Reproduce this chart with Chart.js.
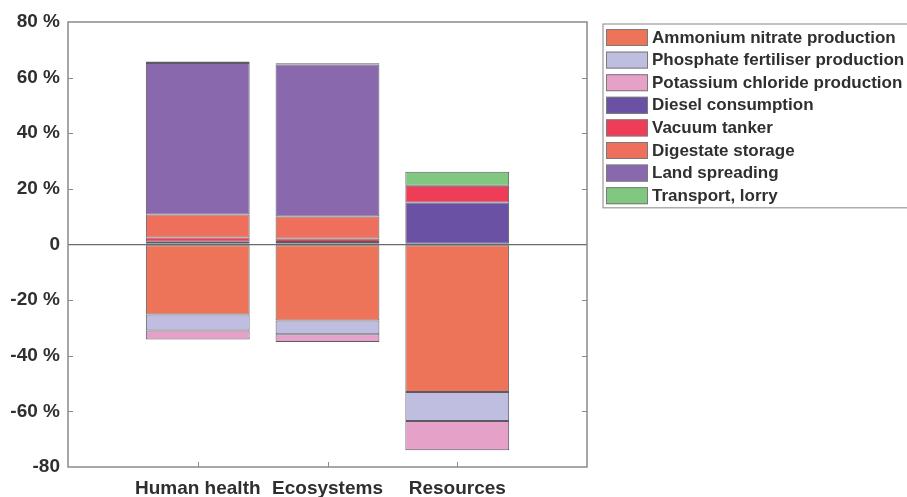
<!DOCTYPE html>
<html><head><meta charset="utf-8">
<script src="https://cdn.jsdelivr.net/npm/chart.js@4.4.1/dist/chart.umd.min.js"></script>
<style>html,body{margin:0;padding:0;background:#fff}#wrap{width:907px;height:497px}</style>
</head><body><div id="wrap"><canvas id="c" width="907" height="497"></canvas></div>
<script>
const categories = ['Human health', 'Ecosystems', 'Resources'];
const seriesNames = ['Ammonium nitrate production', 'Phosphate fertiliser production', 'Potassium chloride production',
  'Diesel consumption', 'Vacuum tanker', 'Digestate storage', 'Land spreading', 'Transport, lorry'];
const ammoniumNitrate = [-25.2, -27.3, -53.0];
const phosphateFertiliser = [-5.7, -5.0, -10.5];
const potassiumChloride = [-3.3, -2.8, -10.5];
const dieselConsumption = [1.0, 0.9, 15.1];
const vacuumTanker = [1.5, 1.3, 6.0];
const digestateStorage = [8.3, 7.9, 0];
const landSpreading = [54.5, 54.6, 0];
const transportLorry = [0.5, 0.5, 5.1];
const yTicks = [80, 60, 40, 20, 0, -20, -40, -60, -80];
const yTickLabels = ['80 %', '60 %', '40 %', '20 %', '0', '-20 %', '-40 %', '-60 %', '-80'];
const seriesColors = ['#EE7459', '#BFBEE0', '#E6A1C9', '#6A51A3', '#EF3C57', '#EE6F5B', '#8A68AE', '#80C87F'];

const seriesValues = [ammoniumNitrate, phosphateFertiliser, potassiumChloride, dieselConsumption,
  vacuumTanker, digestateStorage, landSpreading, transportLorry];
const labels = [''].concat(categories, ['']);
const FONT = {family: '"Liberation Sans", Arial, sans-serif', size: 19, weight: 'bold'};
const TEXT = '#2f2f2f';

const datasets = seriesNames.map((name, i) => ({
  label: name,
  data: [null].concat(seriesValues[i], [null]),
  backgroundColor: seriesColors[i],
  borderColor: 'rgba(50,50,60,0.8)',
  borderWidth: 1,
  borderSkipped: false,
  categoryPercentage: 1.0,
  barPercentage: 0.8
}));

const framePlugin = {
  id: 'frame',
  afterDraw(chart) {
    const {ctx, chartArea: a, scales} = chart;
    ctx.save();
    ctx.strokeStyle = '#8a8a8a';
    ctx.lineWidth = 1.5;
    ctx.strokeRect(a.left, a.top, a.right - a.left, a.bottom - a.top);
    ctx.lineWidth = 1;
    ctx.beginPath();
    yTicks.forEach(v => {
      if (v === 80 || v === -80 || v === 0) return;
      const y = Math.round(scales.y.getPixelForValue(v)) + 0.5;
      ctx.moveTo(a.left, y); ctx.lineTo(a.left + 5, y);
      ctx.moveTo(a.right, y); ctx.lineTo(a.right - 5, y);
    });
    categories.forEach((c, i) => {
      const x = Math.round(scales.x.getPixelForValue(i + 1)) + 0.5;
      ctx.moveTo(x, a.bottom); ctx.lineTo(x, a.bottom - 5);
    });
    ctx.stroke();
    // legend
    const lx = 603, ly = 24, lw = 310, pitch = 22.6;
    ctx.strokeStyle = '#9a9a9a';
    ctx.lineWidth = 1.2;
    ctx.strokeRect(lx, ly, lw, 8 * pitch + 3);
    ctx.font = 'bold 17px "Liberation Sans", Arial, sans-serif';
    ctx.textBaseline = 'middle';
    chart.data.datasets.forEach((ds, i) => {
      const by = ly + 5 + i * pitch;
      ctx.fillStyle = ds.backgroundColor;
      ctx.fillRect(lx + 3, by, 42, 17);
      ctx.strokeStyle = '#7a7a7a';
      ctx.lineWidth = 1;
      ctx.strokeRect(lx + 3.5, by + 0.5, 41, 16);
      ctx.fillStyle = TEXT;
      ctx.fillText(ds.label, lx + 49, by + 9);
    });
    ctx.restore();
  }
};

new Chart(document.getElementById('c'), {
  type: 'bar',
  data: {labels, datasets},
  options: {
    responsive: false,
    animation: false,
    devicePixelRatio: 1,
    layout: {padding: {top: 22, right: 320, left: 0, bottom: 0}},
    plugins: {legend: {display: false}, tooltip: {enabled: false}},
    scales: {
      x: {
        stacked: true,
        offset: false,
        grid: {display: false, drawTicks: false},
        border: {display: false},
        ticks: {font: FONT, color: TEXT, autoSkip: false, maxRotation: 0, padding: 10},
        afterFit(scale) { scale.height = 30; }
      },
      y: {
        stacked: true,
        min: -80, max: 80,
        grid: {
          drawTicks: false,
          color: ctx => (ctx.tick && ctx.tick.value === 0) ? '#6a6a6a' : 'rgba(0,0,0,0)',
          lineWidth: 1.3
        },
        border: {display: false},
        ticks: {
          stepSize: 20, font: FONT, color: TEXT, padding: 8,
          callback: v => { const k = yTicks.indexOf(v); return k >= 0 ? yTickLabels[k] : ''; }
        },
        afterFit(scale) { scale.width = 68; }
      }
    }
  },
  plugins: [framePlugin]
});
</script></body></html>
